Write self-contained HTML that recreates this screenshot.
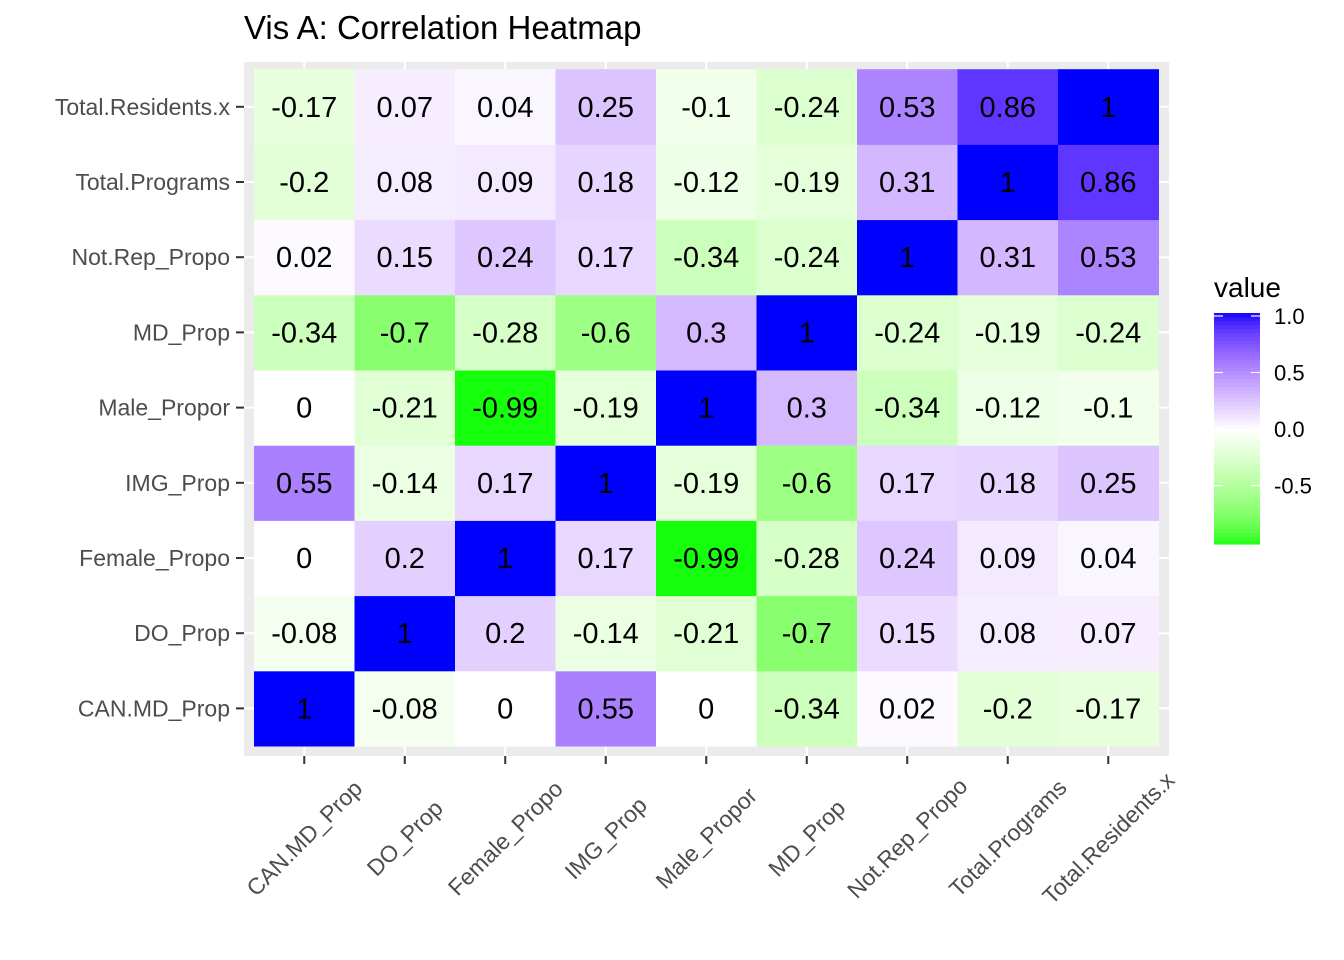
<!DOCTYPE html>
<html><head><meta charset="utf-8"><style>
body{margin:0;background:#fff}
svg{display:block;font-family:"Liberation Sans",Arial,sans-serif}
</style></head><body>
<svg id="chart" width="1344" height="960" xmlns="http://www.w3.org/2000/svg">
<text x="244" y="39" font-size="33" fill="#000">Vis A: Correlation Heatmap</text>
<rect x="244" y="62" width="925" height="694" fill="#EBEBEB"/>
<g id="grid"></g><g id="cells"></g><g id="axes"></g><g id="legend"></g>
</svg>
<script>
const variables = ["CAN.MD_Prop","DO_Prop","Female_Propo","IMG_Prop","Male_Propor","MD_Prop","Not.Rep_Propo","Total.Programs","Total.Residents.x"];
const corrRows = [
[1,-0.08,0,0.55,0,-0.34,0.02,-0.2,-0.17],
[-0.08,1,0.2,-0.14,-0.21,-0.7,0.15,0.08,0.07],
[0,0.2,1,0.17,-0.99,-0.28,0.24,0.09,0.04],
[0.55,-0.14,0.17,1,-0.19,-0.6,0.17,0.18,0.25],
[0,-0.21,-0.99,-0.19,1,0.3,-0.34,-0.12,-0.1],
[-0.34,-0.7,-0.28,-0.6,0.3,1,-0.24,-0.19,-0.24],
[0.02,0.15,0.24,0.17,-0.34,-0.24,1,0.31,0.53],
[-0.2,0.08,0.09,0.18,-0.12,-0.19,0.31,1,0.86],
[-0.17,0.07,0.04,0.25,-0.1,-0.24,0.53,0.86,1]
];
const legendTicks = [1.0,0.5,0.0,-0.5];
const legendTickLabels = ["1.0","0.5","0.0","-0.5"];
const legendMin = -0.99, legendMax = 1;

const NS="http://www.w3.org/2000/svg";
function mk(t,a,p){const e=document.createElementNS(NS,t);for(const k in a)e.setAttribute(k,a[k]);p.appendChild(e);return e;}
const cellW=100.5, cellH=75.2, x0=254, yBottom=746;
function xC(i){return x0+cellW*(i+0.5);}
function yC(j){return yBottom-cellH*(j+0.5);}
function lin(c){c/=255;return c<=0.04045?c/12.92:Math.pow((c+0.055)/1.055,2.4);}
function toLab(r,g,b){r=lin(r);g=lin(g);b=lin(b);
let X=(r*0.4124+g*0.3576+b*0.1805)/0.95047,Y=r*0.2126+g*0.7152+b*0.0722,Z=(r*0.0193+g*0.1192+b*0.9505)/1.08883;
const f=t=>t>0.008856?Math.cbrt(t):7.787*t+16/116;X=f(X);Y=f(Y);Z=f(Z);return[116*Y-16,500*(X-Y),200*(Y-Z)];}
function fromLab(L,a,b){let Y=(L+16)/116,X=a/500+Y,Z=Y-b/200;const fi=t=>t*t*t>0.008856?t*t*t:(t-16/116)/7.787;
X=fi(X)*0.95047;Y=fi(Y);Z=fi(Z)*1.08883;
let r=X*3.2406+Y*-1.5372+Z*-0.4986,g=X*-0.9689+Y*1.8758+Z*0.0415,bb=X*0.0557+Y*-0.2040+Z*1.0570;
const gm=c=>{c=c<=0.0031308?12.92*c:1.055*Math.pow(c,1/2.4)-0.055;return Math.round(Math.max(0,Math.min(1,c))*255);};
return`rgb(${gm(r)},${gm(g)},${gm(bb)})`;}
const W=toLab(255,255,255),B=toLab(0,0,255),G=toLab(0,255,0);
function col(v){const t=Math.max(-1,Math.min(1,v));const e=t>=0?B:G,s=Math.abs(t);
return fromLab(W[0]+(e[0]-W[0])*s,W[1]+(e[1]-W[1])*s,W[2]+(e[2]-W[2])*s);}
const grid=document.getElementById('grid'),cells=document.getElementById('cells'),axes=document.getElementById('axes'),leg=document.getElementById('legend');
variables.forEach((v,i)=>{
 let l=mk('line',{x1:xC(i),x2:xC(i),y1:62,y2:756,stroke:'#fff','stroke-width':2},grid);
 
 l=mk('line',{x1:244,x2:1169,y1:yC(i),y2:yC(i),stroke:'#fff','stroke-width':2},grid);
 
});
corrRows.forEach((row,j)=>{row.forEach((v,i)=>{
 const r=mk('rect',{x:x0+cellW*i,y:yBottom-cellH*(j+1),width:cellW+0.5,height:cellH+0.5,fill:col(v)},cells);
 
 const t=mk('text',{x:xC(i),y:yC(j)+10,'font-size':29,'text-anchor':'middle',fill:'#000'},cells);
 t.textContent=String(v);
 
});});
variables.forEach((v,i)=>{
 let tk=mk('line',{x1:236,x2:244,y1:yC(i),y2:yC(i),stroke:'#333','stroke-width':2},axes);
 
 let t=mk('text',{x:230,y:yC(i)+8,'font-size':23,'text-anchor':'end',fill:'#4D4D4D'},axes);t.textContent=v;
 
 tk=mk('line',{x1:xC(i),x2:xC(i),y1:756,y2:764,stroke:'#333','stroke-width':2},axes);
 
 const cx=xC(i), cy=838;
 t=mk('text',{x:cx,y:cy+8,'font-size':23,'text-anchor':'middle',fill:'#4D4D4D',transform:`rotate(-45 ${cx} ${cy})`},axes);t.textContent=v;
 
});
let lt=mk('text',{x:1214,y:297,'font-size':28,fill:'#000'},leg);lt.textContent='value';

const barTop=313,barBot=544,bx=1214,bw=46;
const ly=v=>barBot-(v-legendMin)/(legendMax-legendMin)*(barBot-barTop-6)-3;
const n=60;for(let k=0;k<n;k++){const v=legendMin+(legendMax-legendMin)*(k+0.5)/n;
 const y1=barBot-(barBot-barTop)*(k+1)/n;
 const r=mk('rect',{x:bx,y:y1,width:bw,height:(barBot-barTop)/n+0.6,fill:col(v)},leg);
 }
legendTicks.forEach((v,k)=>{const y=ly(v);
 let l=mk('line',{x1:bx,x2:bx+9,y1:y,y2:y,stroke:'#fff','stroke-width':1.2},leg);
 
 l=mk('line',{x1:bx+bw-9,x2:bx+bw,y1:y,y2:y,stroke:'#fff','stroke-width':1.2},leg);
 
 const t=mk('text',{x:1274,y:y+8,'font-size':22,fill:'#000'},leg);t.textContent=legendTickLabels[k];
 
});
</script>
</body></html>
